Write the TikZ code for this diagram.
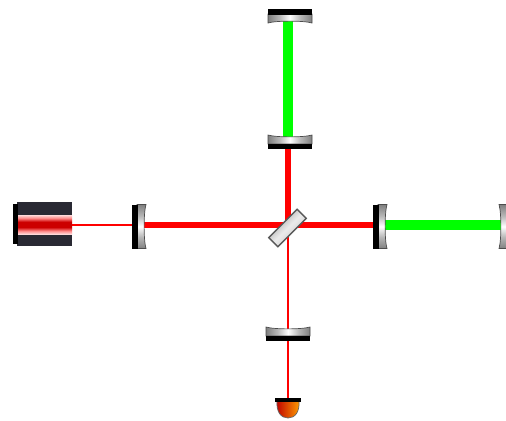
\documentclass[tikz,border=0pt]{standalone}
\usepackage{xcolor}
\definecolor{beamred}{rgb}{1, 0, 0}
\definecolor{beamgreen}{rgb}{0, 1, 0}
\definecolor{housing}{rgb}{0.16, 0.16, 0.20}
\definecolor{glass}{rgb}{0.62, 0.65, 0.68}
\pgfdeclarehorizontalshading{lensglass}{100bp}{
	color(0bp)=(black!50); color(25bp)=(black!50); color(38bp)=(black!28);
	color(50bp)=(white); color(62bp)=(black!28); color(75bp)=(black!50); color(100bp)=(black!50)}
\pgfdeclareverticalshading{laserband}{100bp}{
	color(0bp)=(red!15); color(25bp)=(red!15); color(33bp)=(red!45);
	color(43bp)=(red!80!black); color(57bp)=(red!80!black); color(67bp)=(red!45); color(75bp)=(red!15); color(100bp)=(red!15)}
\tikzset{
	thickbeam/.style = {draw=beamred, line width=3pt},
	thinbeam/.style = {draw=beamred, line width=0.8pt},
	cavity/.style = {draw=beamgreen, line width=6.2pt},
	lens/.pic = {
		\draw[draw=black!70, line width=0.4pt, shading=lensglass, shading angle=#1]
			(-22,5) -- (22,5) -- (22,14) .. controls (14,11.5) and (-14,11.5) .. (-22,14) -- cycle;
		\fill[black] (-22,0) rectangle (22,5.5);
	}
}
\begin{document}
\begin{tikzpicture}[x=0.02cm, y=-0.02cm]
		\clip (0,0) rectangle (506,420);
		\fill[white] (0,0) rectangle (506,420);

		%beam end points
		\coordinate (laserout) at (72,225);
		\coordinate (centre) at (288,225);
		\coordinate (inmirror) at (140,225);
		\coordinate (eastin) at (380,225);
		\coordinate (eastend) at (502,225);
		\coordinate (northin) at (288,143);
		\coordinate (northend) at (288,18);
		\coordinate (southin) at (288,334);
		\coordinate (detector) at (288,399);

		%draw beams
		\draw[thinbeam] (laserout) -- (inmirror);
		\draw[thickbeam] (inmirror) -- (centre);
		\draw[thickbeam] (centre) -- (eastin);
		\draw[thickbeam] (centre) -- (northin);
		\draw[thinbeam] (centre) -- (southin);
		\draw[thinbeam] (southin) -- (detector);
		\draw[cavity] (eastin) -- (eastend);
		\draw[cavity] (northin) -- (northend);

		%laser
		\fill[housing] (17,202) rectangle (72,246);
		\fill[black] (13,204) rectangle (18,244);
		\shade[shading=laserband] (18,215) rectangle (72,234);

		%mirrors
		\pic[rotate=0] (mirrornorthend) at (290,9) {lens=0};
		\pic[rotate=180] (mirrornorth) at (290,149) {lens=0};
		\pic[rotate=90] (mirrorin) at (132,226.5) {lens=90};
		\pic[rotate=90] (mirroreast) at (373,226.5) {lens=90};
		\pic[rotate=-90] (mirroreastend) at (513,226.5) {lens=90};
		\pic[rotate=180] (mirrorsouth) at (288,341) {lens=0};

		%beam splitter
		\draw[draw=black!65, line width=0.8pt, left color=black!40, right color=black!25, middle color=black!8, shading angle=45, rotate around={45:(287.5,228)}]
			(267.5,221.5) rectangle (307.5,234.5);

		%detector
		\shade[left color=red!75!black, right color=orange!75!yellow, draw=black!60]
			(277,400) -- (299,400) .. controls (300,412) and (295,418) .. (288,418) .. controls (281,418) and (276,412) .. (277,400) -- cycle;
		\fill[black] (275,398) rectangle (301,402);
\end{tikzpicture}
\end{document}
